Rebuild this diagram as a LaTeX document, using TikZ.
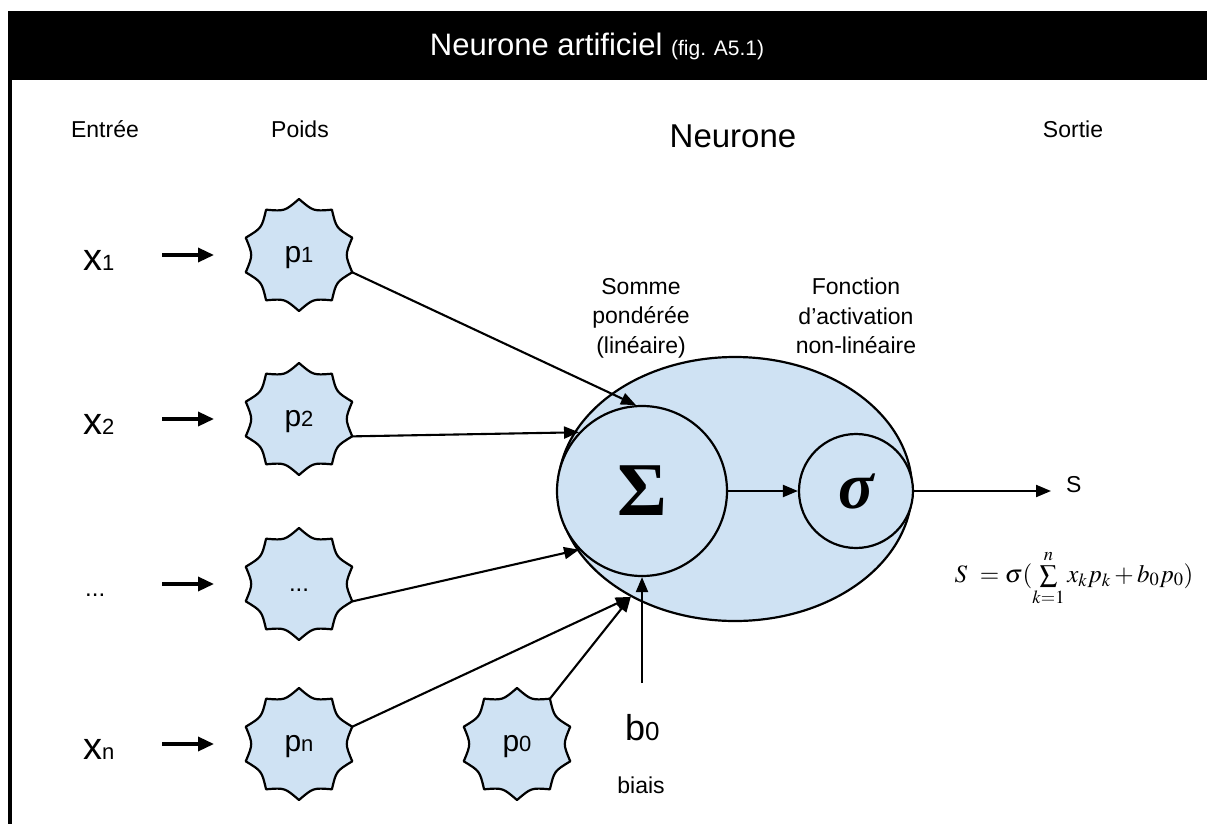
\documentclass[tikz,border=0pt]{standalone}
\usepackage{mathptmx}
\usepackage[no-math]{fontspec}
\setmainfont{Liberation Sans}
\newfontfamily\greekfont{Liberation Serif}
\usetikzlibrary{arrows.meta,shapes.geometric}
\definecolor{cellblue}{HTML}{CFE2F3}
\newcommand\fs[1]{\fontsize{#1}{#1}\selectfont}
% symbol with a smaller index set on the same baseline
\newcommand\subpair[4]{{\fs{#1}#2}{\fs{#3}#4}}

\tikzset{
  lbl/.style={inner sep=0pt, font=\fs{23}},
  sealline/.style={fill=cellblue, draw=black, line width=2.2pt, line join=round},
  sealnode/.style={circle, minimum size=112pt, inner sep=0pt, text height=15pt, text depth=0pt},
  conn/.style={line width=2.1pt, -{Triangle[length=15pt,width=12pt]}},
  inarrow/.style={line width=3.4pt, -{Triangle[length=16pt,width=14pt]}},
  body/.style={fill=cellblue, draw=black, line width=2.2pt, inner sep=0pt},
}

% ten-pointed seal with concave edges, plus a named node at its centre
\newcommand\seal[4]{%
  \begin{scope}[shift={(#2,#3)}]
    \filldraw[sealline] (90:56) \foreach \k in {1,...,10}{ .. controls ({90+36*\k-18}:46) .. ({90+36*\k}:56)} -- cycle;
  \end{scope}
  \node[sealnode] (#1) at (#2,#3) {#4};
}

\begin{document}
\begin{tikzpicture}[x=1pt,y=-1pt]
\useasboundingbox (0,0) rectangle (1207,824);
\fill[white] (0,0) rectangle (1207,824);

% frame: title bar and left rule
\fill[black] (8,11) rectangle (1207,80);
\fill[black] (8,80) rectangle (12,824);
\node[text=white, inner sep=0pt] (title) at (597,46) {{\fs{31}Neurone artificiel }{\fs{21}(fig. A5.1)}};

% column headers
\node[lbl, anchor=base] (hin) at (105,138) {Entrée};
\node[lbl, anchor=base] (hw) at (300,138) {Poids};
\node[lbl, font=\fs{33}, anchor=base] (hn) at (733,147) {Neurone};
\node[lbl, anchor=base] (hout) at (1073,138) {Sortie};

% weights
\seal{p1}{299}{255}{\subpair{30}{p}{22}{1}}
\seal{p2}{299}{419}{\subpair{30}{p}{22}{2}}
\seal{pd}{299}{584}{{\fs{24}...}}
\seal{pn}{299}{744}{\subpair{30}{p}{22}{n}}
\seal{p0}{517}{744}{\subpair{30}{p}{22}{0}}

% inputs
\node[lbl, anchor=base west] (x1) at (83,270) {\subpair{38}{x}{22}{1}};
\node[lbl, anchor=base west] (x2) at (83,434) {\subpair{38}{x}{22}{2}};
\node[lbl, anchor=base west] (xd) at (85,596) {{\fs{24}...}};
\node[lbl, anchor=base west] (xn) at (83,759) {\subpair{38}{x}{22}{n}};

\coordinate (colA) at (162,0);
\coordinate (colB) at (214,0);
\foreach \p in {p1,p2,pd,pn}{
  \draw[inarrow] (\p -| colA) -- (\p -| colB);
}

% neuron body
\node[body, ellipse, minimum width=354pt, minimum height=264pt] (neuron) at (735,489) {};
\node[body, circle, minimum size=170pt] (sum) at (642,491) {\greekfont\bfseries\fs{76}Σ};
\node[body, circle, minimum size=114pt] (sig) at (856,491) {\greekfont\bfseries\itshape\fs{66}σ};

\node[lbl, align=center, font=\fontsize{23}{29.5}\selectfont, anchor=north] (sumtxt) at (641,278) {Somme\\pondérée\\(linéaire)};
\node[lbl, align=center, font=\fontsize{23}{29.5}\selectfont, anchor=north] (sigtxt) at (856,278) {Fonction\\d’activation\\non-linéaire};

% bias
\node[lbl, anchor=base west] (bias) at (625,740) {\subpair{36}{b}{26}{0}};
\node[lbl, anchor=base] (biais) at (641,793) {biais};
\coordinate (biasfoot) at (642,683);

% output
\node[lbl, anchor=base west] (out) at (1066,492) {S};
\node[inner sep=0pt] (eq) at (1074,578) {\fs{25}$S\ =\sigma(\sum\limits_{k=1}^{n}x_kp_k+b_0p_0)$};

% connectors
\draw[conn] (p1.-18) -- (sum.94);
\draw[conn] (p2.-18) -- (sum.137);
\draw[conn] (pd.-18) -- (sum.223);
\draw[conn] (pn.18) -- (neuron.226);
\draw[conn] (p0.54) -- (neuron.226);
\draw[conn] (biasfoot) -- (biasfoot |- sum.south);
\draw[conn] (sum.east) -- (sig.west);
\draw[conn, shorten >=15pt] (sig.east) -- (sig.east -| out.west);
\end{tikzpicture}
\end{document}
